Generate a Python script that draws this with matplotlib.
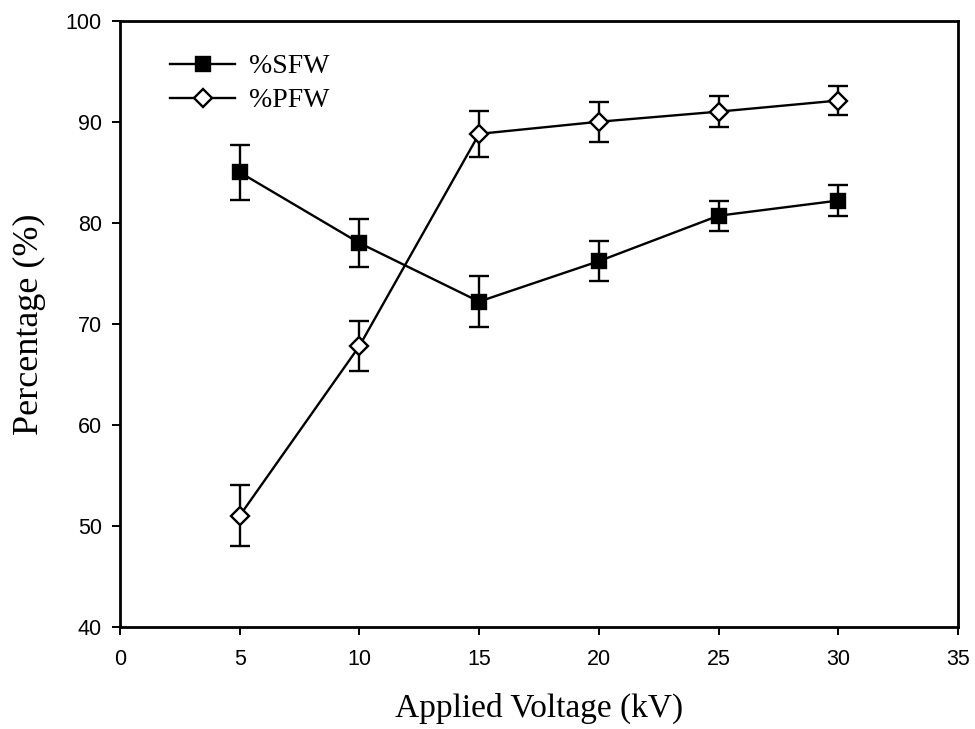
import matplotlib.pyplot as plt

voltage = [5, 10, 15, 20, 25, 30]
sfw = [85.0, 78.0, 72.2, 76.2, 80.7, 82.2]
sfw_err = [2.7, 2.4, 2.5, 2.0, 1.5, 1.5]
pfw = [51.0, 67.8, 88.8, 90.0, 91.0, 92.1]
pfw_err = [3.0, 2.5, 2.3, 2.0, 1.5, 1.4]

x_ticks = [0, 5, 10, 15, 20, 25, 30, 35]
y_ticks = [40, 50, 60, 70, 80, 90, 100]

fig = plt.figure(figsize=(9.75, 7.29), dpi=100)
ax = fig.add_axes([0.123, 0.14, 0.8596, 0.8316])

style = dict(color="black", linewidth=1.7, capsize=7, capthick=1.7, elinewidth=1.7,
             markeredgewidth=1.7)
ax.errorbar(voltage, sfw, yerr=sfw_err, marker="s", markersize=10, markerfacecolor="black",
            markeredgecolor="black", label="%SFW", **style)
ax.errorbar(voltage, pfw, yerr=pfw_err, marker="D", markersize=9, markerfacecolor="white",
            markeredgecolor="black", label="%PFW", **style)

ax.set_xlim(0, 35)
ax.set_ylim(40, 100)
ax.set_xticks(x_ticks)
ax.set_yticks(y_ticks)
ax.tick_params(direction="out", length=6, width=1.4, labelsize=15.5)
ax.tick_params(axis="x", pad=10)
ax.tick_params(axis="y", pad=7)
for lbl in ax.get_xticklabels() + ax.get_yticklabels():
    lbl.set_fontfamily("Liberation Sans")
for sp in ax.spines.values():
    sp.set_linewidth(2)

ax.set_xlabel("Applied Voltage (kV)", family="Liberation Serif", fontsize=24, labelpad=16)
ax.set_ylabel("Percentage (%)", family="Liberation Serif", fontsize=26, labelpad=14)

# legend shows only the marker lines, not the error bar caps
handles, labels = ax.get_legend_handles_labels()
handles = [h[0] for h in handles]
ax.legend(handles, labels, loc="upper left", bbox_to_anchor=(0.06, 0.945), frameon=False,
          borderpad=0, borderaxespad=0,
          prop={"family": "Liberation Serif", "size": 20}, handlelength=2.35,
          handletextpad=0.5, labelspacing=0.3)

fig.savefig("out.png", dpi=100)
